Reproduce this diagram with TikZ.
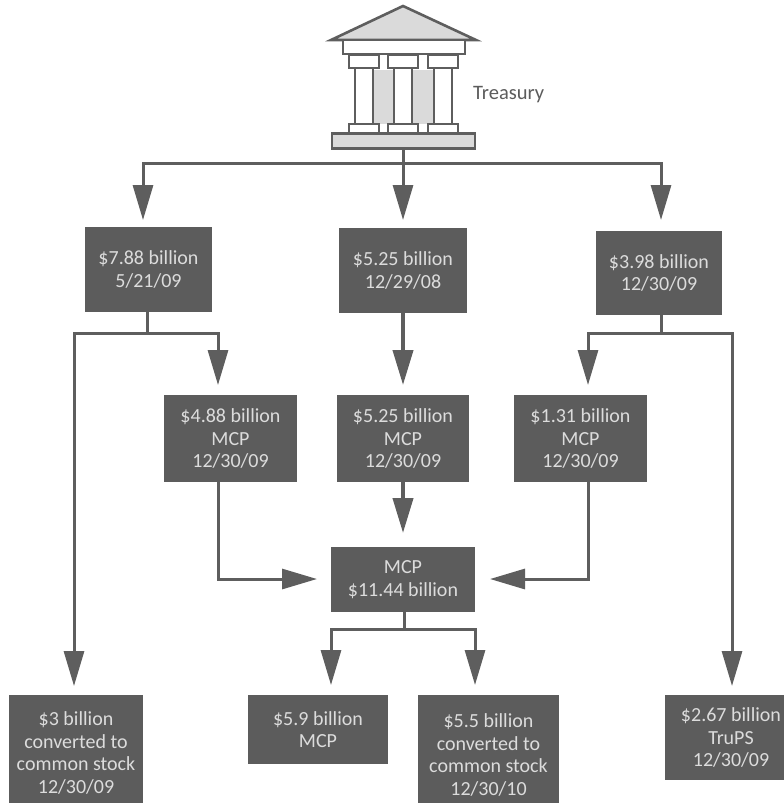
\documentclass[tikz,border=0pt]{standalone}
\usepackage{fontspec}
\setmainfont{Carlito}
\usetikzlibrary{arrows.meta}
\definecolor{boxgray}{HTML}{5C5C5C}
\definecolor{linegray}{HTML}{5E5E5E}
\definecolor{txtlight}{HTML}{DCDCDC}
\definecolor{roofgray}{HTML}{DADADA}
\tikzset{
  x=1pt,y=-1pt,
  bx/.style={fill=boxgray,text=txtlight,align=center,font=\fontsize{20}{22.5}\selectfont,inner sep=0pt,anchor=center},
  conn/.style={draw=linegray,line width=3pt},
  arr/.style={conn,-{Triangle[length=35pt,width=20pt,fill=linegray]}},
  heavy/.style={line width=4pt},
  tmp/.style={draw=linegray,line width=2.6pt,line join=miter},
}
\newcommand{\bbox}[6]{% name x0 y0 x1 y1 text
  \node[bx,minimum width=#4pt-#2pt,minimum height=#5pt-#3pt] (#1) at ({(#2+#4)/2},{(#3+#5)/2}) {#6};}
\begin{document}
\begin{tikzpicture}
\useasboundingbox[fill=white] (0,0) rectangle (784,803);
% temple
\fill[roofgray] (373,70) rectangle (435,124);
\draw[tmp,fill=roofgray] (403,6) -- (331,40) -- (476,40) -- cycle;
\draw[tmp,fill=white] (343,40) rectangle (465,54);
\foreach \a in {349,388,428}{
  \draw[tmp,fill=white] (\a+6,67) rectangle (\a+24,124);
  \draw[tmp,fill=white] (\a,55) rectangle (\a+30,68);
  \draw[tmp,fill=white] (\a,124) rectangle (\a+30,134);
}
\node[tmp,fill=roofgray,minimum width=143pt,minimum height=15pt,inner sep=0pt] (plinth) at (403.5,141) {};
\node[text=boxgray,font=\fontsize{20.5}{24}\selectfont,anchor=west,inner sep=0pt] (treasury) at (473,95) {Treasury};
% boxes (those in the clip run past the edge of the picture)
\begin{scope}
\clip (0,0) rectangle (784,803);
\bbox{a}{85}{227}{212}{312}{\$7.88 billion\\5/21/09}
\bbox{b}{339}{228}{467}{313}{\$5.25 billion\\12/29/08}
\bbox{c}{596}{231}{722}{315}{\$3.98 billion\\12/30/09}
\bbox{d}{164}{395}{297}{482}{\$4.88 billion\\MCP\\12/30/09}
\bbox{e}{337}{395}{469}{482}{\$5.25 billion\\MCP\\12/30/09}
\bbox{f}{514}{395}{647}{482}{\$1.31 billion\\MCP\\12/30/09}
\bbox{g}{331}{547}{475}{612}{MCP\\\$11.44 billion}
\bbox{h}{9}{695}{143}{811}{\$3 billion\\converted to\\common stock\\12/30/09}
\bbox{i}{248}{695}{388}{764}{\$5.9 billion\\MCP}
\bbox{j}{418}{695}{559}{815}{\$5.5 billion\\converted to\\common stock\\12/30/10}
\bbox{k}{665}{695}{797}{780}{\$2.67 billion\\TruPS\\12/30/09}
\end{scope}
% free ends
\coordinate (jt) at (403,163);
\coordinate (ja) at (147,333);
\coordinate (jc) at (661,333);
\coordinate (jg) at (404,629);
\coordinate (ta) at (143,220);
\coordinate (tb) at (403,220);
\coordinate (tc) at (661,220);
\coordinate (td) at (218,385);
\coordinate (te) at (403,385);
\coordinate (tf) at (588,385);
\coordinate (tg) at (403,533);
\coordinate (tgl) at (317,579);
\coordinate (tgr) at (490,579);
\coordinate (th) at (74,686);
\coordinate (ti) at (331,685);
\coordinate (tj) at (475,685);
\coordinate (tk) at (732,686);
% connectors
\draw[arr] (plinth.south -| tb) -- (tb);
\draw[arr] (jt) -| (ta);
\draw[arr] (jt) -| (tc);
\draw[conn] (a.south -| ja) -- (ja);
\draw[arr] (ja) -| (td);
\draw[arr] (ja) -| (th);
\draw[arr,heavy] (b.south -| te) -- (te);
\draw[arr,heavy] (e.south -| tg) -- (tg);
\draw[conn] (c.south -| jc) -- (jc);
\draw[arr] (jc) -| (tf);
\draw[arr] (jc) -| (tk);
\draw[arr] (d.south -| td) |- (tgl);
\draw[arr] (f.south -| tf) |- (tgr);
\draw[conn] (g.south -| jg) -- (jg);
\draw[arr] (jg) -| (ti);
\draw[arr] (jg) -| (tj);
\end{tikzpicture}
\end{document}
